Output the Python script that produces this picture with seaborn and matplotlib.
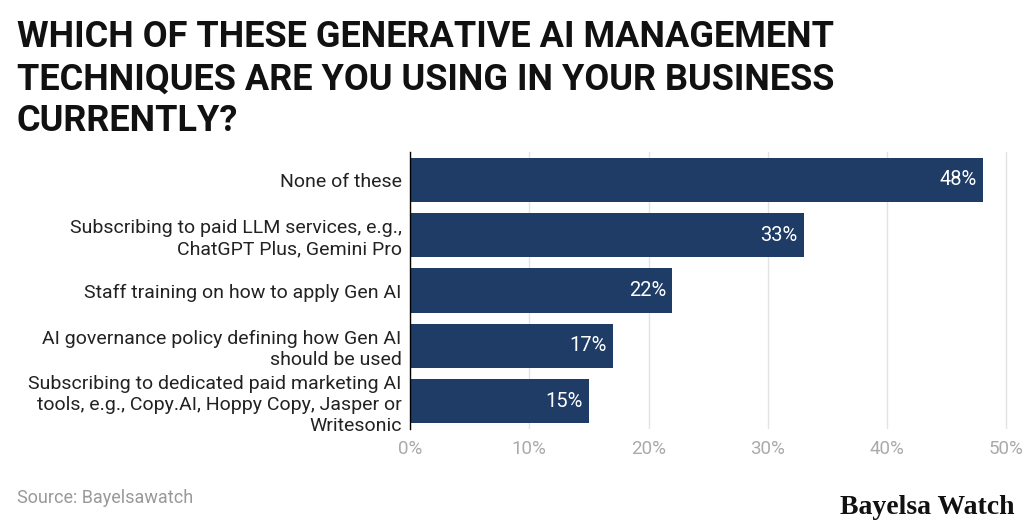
import matplotlib
matplotlib.use('Agg')
import matplotlib.pyplot as plt
import seaborn as sns
import pandas as pd

# ── DATA ──────────────────────────────────────────────────────────────────────
categories = [
    "None of these",
    "Subscribing to paid LLM services, e.g.,\nChatGPT Plus, Gemini Pro",
    "Staff training on how to apply Gen AI",
    "AI governance policy defining how Gen AI\nshould be used",
    "Subscribing to dedicated paid marketing AI\ntools, e.g., Copy.AI, Hoppy Copy, Jasper or\nWritesonic",
]
values = [48, 33, 22, 17, 15]
tick_values = [0, 10, 20, 30, 40, 50]
tick_labels = [f"{t}%" for t in tick_values]

df = pd.DataFrame({"category": categories, "value": values})

sns.set_theme(style="white")
plt.rcParams['font.family'] = ['Roboto', 'DejaVu Sans']

BAR = "#1e3c66"

fig = plt.figure(figsize=(10.24, 5.27), dpi=100)
ax = fig.add_axes([410 / 1024, 1 - 429 / 527, 600 / 1024, (429 - 152) / 527])

sns.barplot(data=df, x="value", y="category", color=BAR, width=0.8,
            saturation=1, ax=ax, edgecolor="none")

ax.set_xlim(0, 50.3)
ax.set_xticks(tick_values)
ax.set_xticklabels(tick_labels, color="#aaaaaa", fontsize=13.5)
ax.tick_params(axis="x", length=0, pad=8)
ax.tick_params(axis="y", length=0, pad=6, labelsize=14, labelcolor="#222222")
ax.set_xlabel("")
ax.set_ylabel("")
ax.xaxis.grid(True, color="#e3e3e3", linewidth=1)
ax.set_axisbelow(True)
for s in ["top", "right", "bottom"]:
    ax.spines[s].set_visible(False)
ax.spines["left"].set_color("#000000")
ax.spines["left"].set_linewidth(1)

for i, v in enumerate(values):
    ax.text(v - 0.5, i, f"{v}%", ha="right", va="center", color="white", fontsize=14.5)

fig.text(17 / 1024, 1 - 19 / 527,
         "WHICH OF THESE GENERATIVE AI MANAGEMENT\nTECHNIQUES ARE YOU USING IN YOUR BUSINESS\nCURRENTLY?",
         ha="left", va="top", fontsize=26, fontweight="bold", color="#111111",
         linespacing=1.22)
fig.text(17 / 1024, 1 - 498 / 527, "Source: Bayelsawatch", ha="left", va="center",
         fontsize=13, color="#999999")
fig.text(1015 / 1024, 1 - 507 / 527, "Bayelsa Watch", ha="right", va="center",
         fontsize=20, fontweight="bold", color="#111111", family=["Liberation Serif"])

fig.savefig("out.png", dpi=100)
